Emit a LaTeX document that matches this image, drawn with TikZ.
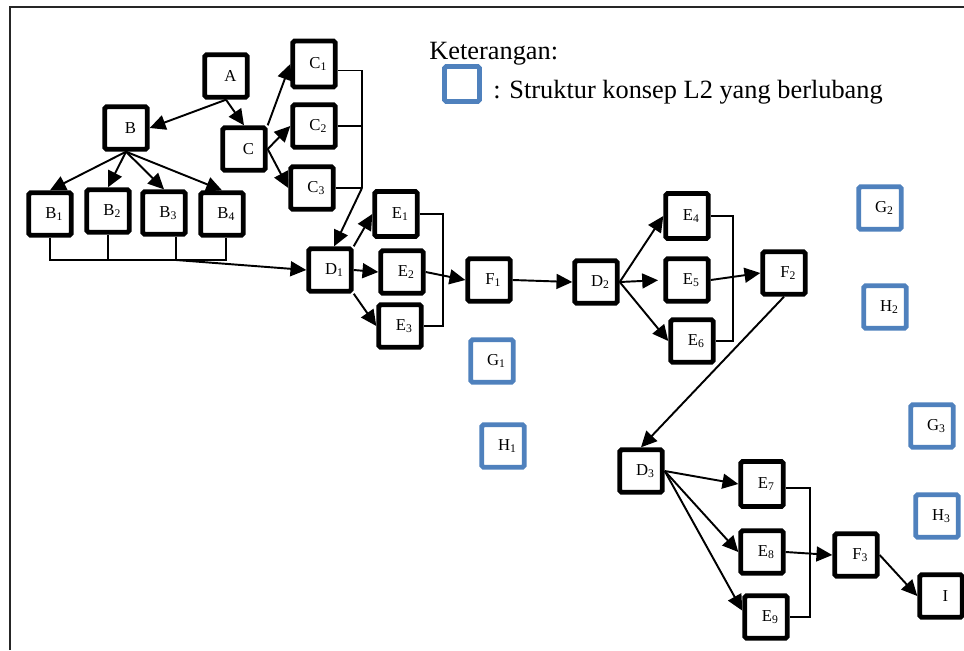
\documentclass[tikz,border=0pt]{standalone}
\usepackage{fontspec}
\setmainfont{Liberation Serif}
\usetikzlibrary{arrows.meta}
\definecolor{holeblue}{RGB}{79,129,189}
\tikzset{
  cbox/.style={rectangle, draw, line width=2.8pt, rounded corners=1pt, fill=white,
               minimum width=0.85cm, minimum height=0.85cm, inner sep=0pt,
               font=\fontsize{9.5}{11}\selectfont, execute at begin node={\hspace*{5pt}}},
  hole/.style={cbox, draw=holeblue},
  fl/.style={-{Triangle[length=9pt,width=8.5pt]}, line width=1.1pt},
  brk/.style={line width=0.9pt},
  frame/.style={line width=1.6pt, draw=black!85},
  keytxt/.style={font=\fontsize{15}{18}\selectfont, inner sep=0pt, anchor=base west},
}

\begin{document}
\begin{tikzpicture}[x=0.02cm, y=-0.02cm]
\useasboundingbox (0,0) rectangle (964,650);
\draw[frame] (10,650) |- (964,7);

% legend
\node[hole, minimum width=0.7cm, minimum height=0.7cm] (key) at (462,84) {};
\node[keytxt] (ktitle) at (429,59) {Keterangan:};
\node[keytxt] (ktext) at (493,98) {: Struktur konsep L2 yang berlubang};

% first branch
\node[cbox] (A) at (226,76) {A};
\node[cbox] (B) at (126,128) {B};
\node[cbox] (C) at (244,149) {C};
\node[cbox, minimum height=0.92cm] (C1) at (314,64) {C\textsubscript{1}};
\node[cbox] (C2) at (314,126) {C\textsubscript{2}};
\node[cbox] (C3) at (312,188) {C\textsubscript{3}};
\node[cbox] (B1) at (50,214) {B\textsubscript{1}};
\node[cbox] (B2) at (108,211) {B\textsubscript{2}};
\node[cbox] (B3) at (164,213) {B\textsubscript{3}};
\node[cbox] (B4) at (222,214) {B\textsubscript{4}};
\node[cbox] (D1) at (330,270) {D\textsubscript{1}};
\node[cbox, minimum height=0.9cm] (E1) at (396,214) {E\textsubscript{1}};
\node[cbox] (E2) at (402,272) {E\textsubscript{2}};
\node[cbox] (E3) at (400,326) {E\textsubscript{3}};
\node[cbox] (F1) at (489,280) {F\textsubscript{1}};
\node[cbox] (D2) at (596,282) {D\textsubscript{2}};
\node[cbox, minimum height=0.9cm] (E4) at (687,216) {E\textsubscript{4}};
\node[cbox] (E5) at (687,280) {E\textsubscript{5}};
\node[cbox] (E6) at (692,341) {E\textsubscript{6}};
\node[cbox] (F2) at (784,273) {F\textsubscript{2}};
\node[cbox] (D3) at (641,471) {D\textsubscript{3}};
\node[cbox, minimum height=0.9cm] (E7) at (762,484) {E\textsubscript{7}};
\node[cbox] (E8) at (762,552) {E\textsubscript{8}};
\node[cbox] (E9) at (766,617) {E\textsubscript{9}};
\node[cbox] (F3) at (856,555) {F\textsubscript{3}};
\node[cbox] (I) at (941,596) {I};

% holes
\node[hole] (G1) at (492,361) {G\textsubscript{1}};
\node[hole] (H1) at (503,446) {H\textsubscript{1}};
\node[hole] (G2) at (880,208) {G\textsubscript{2}};
\node[hole] (H2) at (885,307) {H\textsubscript{2}};
\node[hole] (G3) at (932,426) {G\textsubscript{3}};
\node[hole] (H3) at (937,516) {H\textsubscript{3}};

\coordinate (bus) at (0,260);
\coordinate (cj) at (362,188);
\coordinate (ej) at (443,0);
\coordinate (ek) at (733,0);
\coordinate (el) at (810,0);

\draw[fl] (A.south) -- (B.east);
\draw[fl] (A.south) -- (C.north);
\draw[fl] (B.south) -- (B1.north);
\draw[fl] (B.south) -- (B2.north);
\draw[fl] (B.south) -- (B3.north);
\draw[fl] (B.south) -- (B4.north);
\draw[fl] (C.north east) -- (C1.west);
\draw[fl] (C.east) -- (C2.west);
\draw[fl] (C.east) -- (C3.west);

% C1..C3 gathered on the right
\draw[brk] (C1.-15) -| (cj);
\draw[brk] (C2.east) -- (C2.east -| cj);
\draw[brk] (C3.east) -- (cj);
\draw[fl] (cj) -- (D1.80);

% B1..B4 bus
\draw[brk] (B1.south) |- (B4.-80 |- bus) -- (B4.-80);
\draw[brk] (B2.south) -- (B2.south |- bus);
\draw[brk] (B3.-63) -- (B3.-63 |- bus);
\draw[fl] (B3.-63 |- bus) -- (D1.west);

\draw[fl] (D1.north east) -- (E1.west);
\draw[fl] (D1.east) -- (E2.west);
\draw[fl] (D1.south east) -- (E3.west);
\draw[brk] (E1.east) -- (E1.east -| ej) |- (E3.east);
\draw[fl] (E2.east) -- (F1.west);
\draw[fl] (F1.east) -- (D2.west);

\draw[fl] (D2.east) -- (E4.west);
\draw[fl, shorten >=3pt] (D2.east) -- (E5.west);
\draw[fl] (D2.east) -- (E6.west);
\draw[brk] (E4.east) -- (E4.east -| ek) |- (E6.east);
\draw[fl] (E5.east) -- (F2.west);
\draw[fl] (F2.south) -- (D3.north);

\draw[fl] (D3.east) -- (E7.west);
\draw[fl] (D3.east) -- (E8.west);
\draw[fl] (D3.east) -- (E9.165);
\draw[brk] (E7.-10) -- (E7.-10 -| el) |- (E9.east);
\draw[fl] (E8.east) -- (F3.west);
\draw[fl] (F3.east) -- (I.west);
\end{tikzpicture}
\end{document}
